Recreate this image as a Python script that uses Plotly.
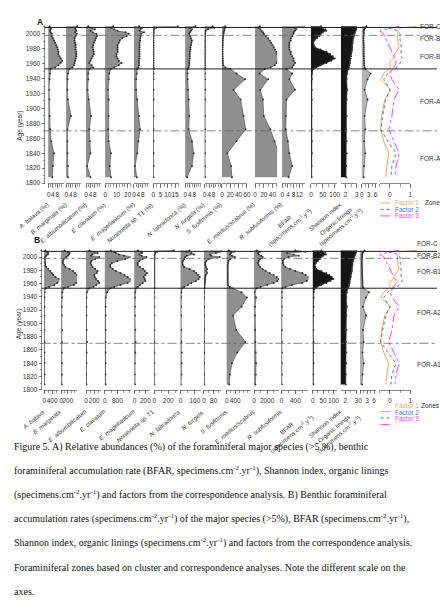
import plotly.graph_objects as go

W, H = 440, 610
def fx(p): return p / W
def fy(p): return 1 - p / H

# ---------------- data ----------------
ages = [2010, 2008, 2006, 2004, 2002, 2000, 1997, 1994, 1991, 1988, 1985, 1982, 1979, 1976, 1973, 1970,
        1967, 1964, 1961, 1958, 1955, 1953, 1947, 1939, 1925, 1912, 1890, 1872, 1856, 1840, 1823, 1808]

# Panel A: relative abundances (%)
a_batava = [1, 2.5, 2, 1.5, 2, 3, 3, 4, 5, 6, 7, 8, 8.5, 9, 9, 10, 11, 12.5, 11, 9, 6, 2, 1.5, 1, 0.5, 0.8, 1, 1.5, 2.5, 5, 4, 3.5]
a_marginata = [10, 8, 8.5, 9, 8, 9.5, 8.5, 7.5, 7.5, 8, 8.5, 8.5, 8.5, 9, 9, 9, 8.5, 8, 7.5, 7, 5.5, 3, 1.5, 1.2, 1, 1.5, 4.3, 1, 1, 1, 1.5, 1.5]
a_albumb = [2, 5, 8, 4, 6, 9.5, 10, 9, 8, 7, 6.5, 6, 6.5, 7, 7, 6, 5, 4, 3, 5, 6.5, 3, 2, 2, 1.5, 2.5, 4.5, 3, 3.5, 4, 1, 4]
a_clavatum = [7, 5, 8, 11, 18, 21, 19, 15, 13, 12, 11, 11, 11, 11, 10, 10, 11, 12, 14.5, 12, 8, 5, 3.5, 3, 2.5, 3, 3, 2.5, 3, 5, 4, 5]
a_magell = [4.5, 7.5, 6, 5, 9, 6.5, 6, 5.5, 5.5, 5, 5, 5, 5, 5, 5, 5, 5, 4.5, 4.5, 4.5, 4, 3, 2.5, 2, 2, 3, 4.5, 5.5, 4, 3, 1, 2.5]
a_nonion = [17, 2, 0.5, 0.3, 0.2, 0.2, 0.2, 0.2, 0.2, 0.2, 0.2, 0.2, 0.2, 0.2, 0.2, 0.2, 0.2, 0.2, 0.2, 0.2, 0.2, 0.2, 0.2, 0.2, 0.2, 0.2, 0.2, 0.2, 0.2, 0.2, 0.2, 0.2]
a_labrad = [9, 4, 6, 5, 4, 3.5, 4, 5, 6, 5.5, 5, 4.5, 4.5, 4, 4, 4, 4, 3.5, 3.5, 3.5, 3, 2, 2, 2, 2.5, 3, 3.5, 3, 6, 7.5, 6, 1.5]
a_turgida = [7, 9, 3, 1, 0.5, 0.5, 0.3, 0.3, 0.3, 0.3, 0.3, 0.3, 0.3, 0.3, 0.3, 0.3, 0.3, 0.3, 0.3, 0.3, 0.3, 0.3, 0.3, 0.3, 0.3, 0.3, 0.3, 0.3, 0.3, 0.3, 0.3, 0.3]
a_fusif = [8, 7, 6, 5, 4, 4, 3, 2.5, 2, 2, 2, 1.5, 1.5, 1.5, 1.5, 1.5, 2, 2, 2, 3, 8, 20, 35, 56, 28, 45, 52, 57, 35, 13, 22, 24]
a_medius = [11, 8, 12, 15, 18, 20, 25, 30, 34, 37, 40, 43, 46, 49, 51, 53, 53, 52, 50, 45, 36, 22, 10, 30, 12, 18, 20, 35, 45, 55, 57, 54]
a_subfus = [16, 9, 10, 9, 8, 8, 7, 6, 6, 5, 5, 5, 5, 6, 6, 7, 8, 8, 9, 8, 7, 3, 7, 5, 9, 3, 2.5, 2.5, 4, 5, 7, 4.5]

# Panel B: accumulation rates (specimens.cm-2.yr-1)
b_batava = [60, 150, 200, 180, 100, 40, 30, 30, 40, 60, 100, 200, 300, 380, 450, 560, 750, 870, 650, 500, 250, 80, 20, 10, 10, 10, 10, 15, 15, 20, 20, 15]
b_marginata = [100, 200, 250, 230, 200, 150, 80, 50, 50, 80, 120, 250, 350, 420, 480, 600, 580, 540, 450, 380, 200, 80, 30, 20, 15, 15, 20, 15, 15, 15, 15, 15]
b_albumb = [80, 200, 280, 150, 120, 320, 220, 130, 110, 130, 160, 220, 280, 260, 200, 210, 240, 290, 320, 250, 180, 80, 20, 10, 10, 10, 15, 25, 15, 10, 5, 10]
b_clavatum = [380, 600, 700, 900, 1200, 1690, 1300, 800, 450, 350, 350, 500, 700, 1000, 1250, 1450, 1650, 1690, 1450, 1000, 600, 380, 150, 60, 50, 50, 50, 50, 40, 50, 40, 50]
b_magell = [60, 120, 140, 90, 130, 220, 150, 90, 60, 60, 100, 160, 190, 230, 200, 170, 190, 200, 150, 100, 60, 30, 15, 10, 10, 10, 15, 20, 15, 10, 5, 10]
b_nonion = [280, 40, 10, 5, 3, 3, 2, 2, 2, 2, 2, 2, 2, 2, 2, 2, 2, 2, 2, 2, 2, 2, 2, 2, 2, 2, 2, 2, 2, 2, 2, 2]
b_labrad = [100, 60, 120, 150, 70, 50, 40, 25, 20, 25, 40, 100, 150, 175, 195, 215, 200, 170, 120, 80, 40, 15, 8, 5, 5, 5, 6, 8, 12, 12, 8, 3]
b_turgida = [150, 160, 100, 50, 60, 130, 40, 20, 10, 12, 15, 25, 20, 25, 15, 10, 10, 8, 8, 6, 5, 3, 2, 2, 2, 2, 2, 2, 2, 2, 2, 2]
b_fusif = [100, 350, 200, 150, 250, 380, 150, 80, 60, 50, 50, 50, 50, 50, 50, 50, 50, 50, 50, 60, 150, 300, 700, 950, 700, 300, 450, 880, 500, 250, 150, 120]
b_medius = [400, 900, 600, 700, 1100, 1300, 900, 700, 600, 700, 900, 1300, 1800, 2400, 3000, 3500, 3800, 3600, 3000, 2000, 1000, 400, 100, 300, 150, 150, 150, 200, 250, 300, 250, 200]
b_subfus = [400, 690, 160, 350, 500, 200, 70, 40, 40, 60, 110, 250, 400, 600, 700, 780, 830, 730, 590, 300, 110, 20, 15, 10, 10, 10, 10, 10, 10, 10, 10, 10]

# shared series
bfar = [42, 50, 60, 64, 50, 42, 35, 25, 15, 10, 12, 17, 40, 65, 80, 92, 100, 85, 65, 40, 20, 10, 5, 4, 4, 4, 3, 4, 4, 4, 3, 3]
shannon = [3.2, 3.0, 2.95, 2.9, 2.85, 2.8, 2.75, 2.7, 2.65, 2.65, 2.6, 2.6, 2.6, 2.55, 2.5, 2.5, 2.45, 2.4, 2.4, 2.35, 2.3, 2.25, 2.15, 2.1, 2.15, 2.1, 2.1, 2.05, 2.1, 2.1, 2.05, 2.05]
org_lin = [2, 1.5, 1, 0.8, 0.8, 0.8, 0.7, 0.7, 0.7, 0.7, 0.8, 0.8, 0.8, 0.8, 0.8, 0.9, 0.9, 1, 1, 1, 1.2, 1.5, 3.8, 2.5, 1.2, 2.5, 1.2, 1.5, 1, 1.5, 1, 0.8]
factor1 = [1.3, 0.55, 0.45, 0.4, 0.4, 0.37, 0.38, 0.38, 0.38, 0.4, 0.42, 0.45, 0.4, 0.3, 0.25, 0.2, 0.15, 0.05, 0.0, 0.0, 0.0, -0.05, -0.3, -0.45, 0.05, -0.25, -0.4, -0.45, -0.3, -0.05, -0.15, -0.2]
factor2 = [-0.65, -0.3, 0.2, 0.35, 0.45, 0.5, 0.5, 0.5, 0.5, 0.55, 0.55, 0.55, 0.55, 0.55, 0.55, 0.55, 0.6, 0.6, 0.5, 0.45, 0.35, 0.2, -0.1, -0.3, 0.0, -0.2, -0.35, -0.45, -0.1, 0.3, 0.1, 0.05]
factor3 = [0.45, 0.1, -0.3, -0.5, -0.4, -0.3, -0.25, -0.2, -0.15, -0.1, -0.05, 0.0, 0.05, 0.1, 0.15, 0.2, 0.25, 0.3, 0.3, 0.25, 0.2, 0.1, 0.0, 0.1, 0.45, 0.2, 0.1, -0.05, 0.2, 0.45, 0.3, 0.25]

labels_A = ["<i>A. batava</i> (%)", "<i>B. marginata</i> (%)", "<i>E. albumbilicatum</i> (%)", "<i>E. clavatum</i> (%)",
            "<i>E. magellanicum</i> (%)", "<i>Nonionella</i> sp. T1 (%)", "<i>N. labradorica</i> (%)", "<i>N. turgida</i> (%)",
            "<i>S. fusiformis</i> (%)", "<i>E. medius/scabrus</i> (%)", "<i>R. subfusiformis</i> (%)"]
labels_B = ["<i>A. batava</i>", "<i>B. marginata</i>", "<i>E. albumbilicatum</i>", "<i>E. clavatum</i>",
            "<i>E. magellanicum</i>", "<i>Nonionella</i> sp. T1", "<i>N. labradorica</i>", "<i>N. turgida</i>",
            "<i>S. fusiformis</i>", "<i>E. medius/scabrus</i>", "<i>R. subfusiformis</i>"]
label_bfar = "BFAR<br>(specimens.cm<sup>-2</sup>.y<sup>-1</sup>)"
label_shannon = "Shannon index"
label_org = "Organic linings<br>(specimens.cm<sup>-2</sup>.y<sup>-1</sup>)"
factor_names = ["Factor 1", "Factor 2", "Factor 3"]
zone_names = ["FOR-C", "FOR-B2", "FOR-B1", "FOR-A2", "FOR-A1"]
zone_bounds = [2008.5, 1998, 1953, 1870]
year_ticks = [1800, 1820, 1840, 1860, 1880, 1900, 1920, 1940, 1960, 1980, 2000]

caption = [
    "Figure 5. A) Relative abundances (%) of the foraminiferal major species (&gt;5 %), benthic",
    "foraminiferal accumulation rate (BFAR, specimens.cm<sup>-2</sup>.yr<sup>-1</sup>), Shannon index, organic linings",
    "(specimens.cm<sup>-2</sup>.yr<sup>-1</sup>) and factors from the correspondence analysis. B) Benthic foraminiferal",
    "accumulation rates (specimens.cm<sup>-2</sup>.yr<sup>-1</sup>) of the major species (&gt;5%), BFAR (specimens.cm<sup>-2</sup>.yr<sup>-1</sup>),",
    "Shannon index, organic linings (specimens.cm<sup>-2</sup>.yr<sup>-1</sup>) and factors from the correspondence analysis.",
    "Foraminiferal zones based on cluster and correspondence analyses. Note the different scale on the",
    "axes.",
]

# ---------------- layout specs ----------------
FONT = "Liberation Sans, Arial, sans-serif"
GRAY = "#8f8f8f"
BLACK = "#151515"
LIGHT = "#b4b4b4"
F_COLORS = ["#f7a45a", "#4a6fd6", "#ff3dff"]
F_DASH = ["solid", "dot", "dashdot"]

# (data, base_px, end_px, rmin, rmax, tickvals, minor, fill)
specA = [
    (a_batava, 47, 62.3, 0, 13.7, [0, 4, 8], 2, GRAY),
    (a_marginata, 65, 80, 0, 13.4, [0, 4, 8], 2, GRAY),
    (a_albumb, 85, 100, 0, 13.4, [0, 4, 8], 2, GRAY),
    (a_clavatum, 104.5, 130, 0, 22.5, [0, 10, 20], 2.5, GRAY),
    (a_magell, 133.5, 149, 0, 13.8, [0, 4, 8], 2, GRAY),
    (a_nonion, 153, 178.7, 0, 17.5, [0, 5, 10, 15], 2.5, GRAY),
    (a_labrad, 185.5, 201.7, 0, 14.5, [0, 4, 8], 2, GRAY),
    (a_turgida, 205, 221.7, 0, 14.8, [0, 4, 8], 2, GRAY),
    (a_fusif, 222.5, 248.3, 0, 61.5, [0, 20, 40, 60], 10, GRAY),
    (a_medius, 256, 278.3, 0, 50.7, [0, 20, 40], 10, GRAY),
    (a_subfus, 283.5, 306, 0, 15.7, [0, 4, 8, 12], 2, GRAY),
    (bfar, 312.5, 339, 0, 110, [0, 50, 100], 25, BLACK),
    (shannon, 343, 359, 1.6, 3.02, [2, 3], 0.5, BLACK),
    (org_lin, 364, 379, 0, 6.5, [0, 3, 6], 1.5, LIGHT),
]
specB = [
    (b_batava, 42.7, 58, 0, 760, [0, 400], 200, GRAY),
    (b_marginata, 60, 76, 0, 480, [0, 200], 100, GRAY),
    (b_albumb, 85, 100, 0, 360, [0, 200], 100, GRAY),
    (b_clavatum, 104, 130, 0, 1640, [0, 800], 400, GRAY),
    (b_magell, 134, 150, 0, 290, [0, 200], 100, GRAY),
    (b_nonion, 154, 178, 0, 340, [0, 200], 100, GRAY),
    (b_labrad, 180.7, 201, 0, 225, [0, 160], 80, GRAY),
    (b_turgida, 204.3, 222, 0, 145, [0, 80], 40, GRAY),
    (b_fusif, 227.3, 252, 0, 1150, [0, 400], 200, GRAY),
    (b_medius, 255, 280, 0, 3800, [0, 2000], 1000, GRAY),
    (b_subfus, 282.7, 310, 0, 780, [0, 400], 200, GRAY),
    (bfar, 314.3, 339, 0, 118, [0, 50, 100], 25, BLACK),
    (shannon, 342.7, 359, 1.6, 3.05, [2, 3], 0.5, BLACK),
    (org_lin, 362.3, 378, 0, 6.7, [0, 3, 6], 1.5, LIGHT),
]

panels = [
    dict(ya="y", y1800=184.0, ppy=0.75, yx=43, spec=specA, labels=labels_A, lab_y=200, letter=("A", 33, 15),
         fac=(382, 413), zone_y=[20.7, 33.3, 51, 96.7, 154], zone_x=421, leg_y=[204, 210.5, 217],
         zones_lbl=(426, 204)),
    dict(ya="y2", y1800=391.7, ppy=0.667, yx=40, spec=specB, labels=labels_B, lab_y=408, letter=("B", 30, 241),
         fac=(382, 413), zone_y=[245, 256.7, 273.3, 314.3, 366.7], zone_x=418, leg_y=[413.5, 420, 426.5],
         zones_lbl=(422, 413.5)),
]

fig = go.Figure()
layout = dict(width=W, height=H, margin=dict(l=0, r=0, t=0, b=0), paper_bgcolor="white",
              plot_bgcolor="rgba(0,0,0,0)", showlegend=False, font=dict(family=FONT, size=7, color="#333"))
annotations = []
shapes = []
axis_no = [0]

def next_axis():
    axis_no[0] += 1
    n = axis_no[0]
    return ("x" if n == 1 else f"x{n}"), ("xaxis" if n == 1 else f"xaxis{n}")

XTICK = dict(ticks="outside", ticklen=4, tickwidth=0.7, tickcolor="#555", showline=True,
             linecolor="#555", linewidth=0.7, showgrid=False, zeroline=False, ticklabelstandoff=1,
             tickangle=0, tickfont=dict(size=6.5, color="#333"))

YMAX = 2012
for p in panels:
    ya = p["ya"]
    top_px = p["y1800"] - (YMAX - 1800) * p["ppy"]
    ykey = "yaxis" if ya == "y" else "yaxis2"
    layout[ykey] = dict(domain=[fy(p["y1800"]), fy(top_px)], range=[1800, YMAX], anchor="free",
                        position=fx(p["yx"]), tickvals=year_ticks, ticks="outside", ticklen=3, tickwidth=0.7,
                        tickcolor="#555", showline=True, linecolor="#555", linewidth=0.7, showgrid=False,
                        zeroline=False, tickangle=0, tickfont=dict(size=6.5, color="#333"),
                        minor=dict(dtick=10, ticks="outside", ticklen=2, tickcolor="#555", tickwidth=0.6))
    annotations.append(dict(text="Age (year)", x=fx(12), y=fy((p["y1800"] + top_px) / 2 + 5), xref="paper",
                            yref="paper", textangle=-90, showarrow=False, font=dict(size=6.5, color="#333")))
    letter, lx, ly = p["letter"]
    annotations.append(dict(text=f"<b>{letter}</b>", x=fx(lx), y=fy(ly), xref="paper", yref="paper",
                            showarrow=False, font=dict(size=8.5, color="#111")))

    col_labels = p["labels"] + [label_bfar, label_shannon, label_org]
    for i, (data, base, end, rmin, rmax, tv, minor, fill) in enumerate(p["spec"]):
        xa, xkey = next_axis()
        layout[xkey] = dict(domain=[fx(base), fx(end)], range=[rmin, rmax], anchor=ya, tickvals=tv,
                            minor=dict(dtick=minor, ticks="outside", ticklen=3, tickcolor="#555", tickwidth=0.6),
                            **XTICK)
        fig.add_trace(go.Scatter(x=[rmin, rmin], y=[ages[-1], ages[0]], xaxis=xa, yaxis=ya, mode="lines",
                                 line=dict(color="#444", width=0.8), hoverinfo="skip"))
        fig.add_trace(go.Scatter(x=data, y=ages, xaxis=xa, yaxis=ya, mode="lines+markers", fill="tozerox",
                                 fillcolor=fill, line=dict(color="#444", width=0.6),
                                 marker=dict(size=2, color="#333"), hoverinfo="skip"))
        lab_x = base + 4
        annotations.append(dict(text=col_labels[i], x=fx(lab_x), y=fy(p["lab_y"]), xref="paper", yref="paper",
                                textangle=-40, xanchor="right", yanchor="top", showarrow=False,
                                font=dict(size=6, color="#333"), align="center"))

    # factor tick axis
    f0, f1 = p["fac"]
    xa, xkey = next_axis()
    sc = (f1 - f0) / 1.5
    layout[xkey] = dict(domain=[fx(f0), fx(f1)], range=[-0.5, 1.0], anchor=ya, tickvals=[0, 1],
                        minor=dict(dtick=0.5, ticks="outside", ticklen=3, tickcolor="#555", tickwidth=0.6),
                        **XTICK)
    fig.add_trace(go.Scatter(x=[-0.5, 1.0], y=[1700, 1700], xaxis=xa, yaxis=ya, mode="lines",
                             line=dict(width=0), hoverinfo="skip"))
    # factor line overlay (wider, invisible axis, same scale)
    xa, xkey = next_axis()
    layout[xkey] = dict(domain=[fx(f0), 1.0], range=[-0.5, -0.5 + (W - f0) / sc], anchor=ya, visible=False)
    for k, fdata in enumerate([factor1, factor2, factor3]):
        fig.add_trace(go.Scatter(x=fdata, y=ages, xaxis=xa, yaxis=ya, mode="lines",
                                 line=dict(color=F_COLORS[k], width=1, dash=F_DASH[k]), hoverinfo="skip"))
        ly_ = p["leg_y"][k]
        shapes.append(dict(type="line", xref="paper", yref="paper", x0=fx(383), x1=fx(393), y0=fy(ly_), y1=fy(ly_),
                           line=dict(color=F_COLORS[k], width=1, dash=F_DASH[k])))
        annotations.append(dict(text=factor_names[k], x=fx(395), y=fy(ly_), xref="paper", yref="paper",
                                xanchor="left", showarrow=False, font=dict(size=6.5, color=F_COLORS[k])))
    zx, zy = p["zones_lbl"]
    annotations.append(dict(text="Zones", x=fx(zx), y=fy(zy), xref="paper", yref="paper", xanchor="left",
                            showarrow=False, font=dict(size=6.5, color="#333")))

    # zone boundaries
    for j, yr in enumerate(zone_bounds):
        solid = j in (0, 2)
        shapes.append(dict(type="line", xref="paper", yref=ya, x0=fx(p["yx"]), x1=1.0, y0=yr, y1=yr,
                           line=dict(color="#222" if solid else "#666", width=1 if solid else 0.8,
                                     dash="solid" if solid else "dashdot")))
    for j, nm in enumerate(zone_names):
        annotations.append(dict(text=nm, x=fx(p["zone_x"]), y=fy(p["zone_y"][j]), xref="paper", yref="paper",
                                xanchor="left", showarrow=False, font=dict(size=6.5, color="#333")))

# caption
cap_y = [457.5, 481.5, 505.5, 529.5, 553.5, 577.5, 601.5]
for line, cy in zip(caption, cap_y):
    annotations.append(dict(text=line, x=fx(10), y=fy(cy), xref="paper", yref="paper", xanchor="left",
                            showarrow=False, font=dict(family="Liberation Serif, Times New Roman, serif",
                                                       size=10, color="#111")))

layout["annotations"] = annotations
layout["shapes"] = shapes
fig.update_layout(**layout)
fig.update_traces(showlegend=False)
fig.write_html("out.html", config={"displayModeBar": False, "staticPlot": True},
               post_script="document.body.style.margin='0';document.body.style.overflow='hidden';")
